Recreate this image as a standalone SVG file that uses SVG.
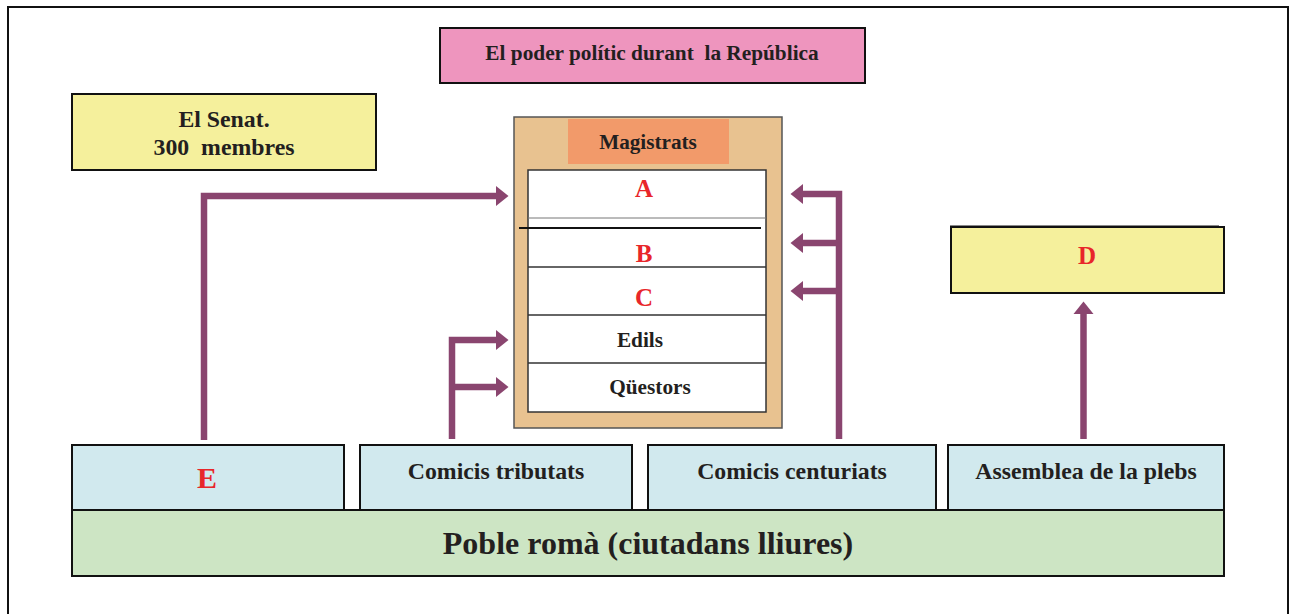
<svg xmlns="http://www.w3.org/2000/svg" width="1295" height="614" viewBox="0 0 1295 614">
<style>
text{font-family:"Liberation Serif","Times New Roman",serif;font-weight:bold;text-anchor:middle;fill:#231F20;white-space:pre}
.red{fill:#E8262A}
.box{stroke:#111;stroke-width:2}
.conn{fill:none;stroke:#8A456F;stroke-width:6.5;stroke-linejoin:miter;stroke-linecap:butt}
.sep{stroke:#333;stroke-width:1.3}
</style>
<defs>
<marker id="ah" markerUnits="userSpaceOnUse" markerWidth="13" markerHeight="22" refX="0" refY="10" orient="auto" viewBox="0 0 13 20">
<path d="M0,0 L12.5,10 L0,20 z" fill="#8A456F"/>
</marker>
</defs>
<rect x="0" y="0" width="1295" height="614" fill="#fff"/>
<rect x="8" y="7" width="1280" height="620" fill="none" stroke="#111" stroke-width="2"/>

<g id="title">
<rect class="box" x="440" y="28" width="425" height="55" fill="#EE95BE"/>
<text x="652" y="60" font-size="21.3" xml:space="preserve">El poder polític durant  la República</text>
</g>

<g id="senat">
<rect class="box" x="72" y="94" width="304" height="76" fill="#F5F09C"/>
<text x="224" y="127" font-size="23.8">El Senat.</text>
<text x="224" y="155" font-size="23.8" xml:space="preserve">300  membres</text>
</g>

<g id="magistrats">
<rect x="514" y="117" width="268" height="311" fill="#E8C290" stroke="#555" stroke-width="1.5"/>
<rect x="568" y="119" width="161" height="45" fill="#F29A6A"/>
<text x="648" y="149" font-size="21.2">Magistrats</text>
<rect x="528" y="170" width="238" height="242" fill="#fff" stroke="#333" stroke-width="1.5"/>
<line x1="528" y1="218" x2="766" y2="218" stroke="#777" stroke-width="1"/>
<line x1="519" y1="228" x2="761" y2="228" stroke="#111" stroke-width="2"/>
<line class="sep" x1="528" y1="267" x2="766" y2="267"/>
<line class="sep" x1="528" y1="315" x2="766" y2="315"/>
<line class="sep" x1="528" y1="363" x2="766" y2="363"/>
<text class="red" x="644" y="197" font-size="25">A</text>
<text class="red" x="644" y="262" font-size="25">B</text>
<text class="red" x="644" y="306" font-size="25">C</text>
<text x="640" y="347" font-size="21.3">Edils</text>
<text x="650" y="394" font-size="21.3">Qüestors</text>
</g>

<g id="d">
<line x1="950" y1="225.5" x2="1219" y2="225.5" stroke="#888" stroke-width="1"/>
<rect class="box" x="951" y="227" width="273" height="66" fill="#F5F09C"/>
<text class="red" x="1087" y="264" font-size="25">D</text>
</g>

<g id="e">
<rect class="box" x="72" y="445" width="272" height="65" fill="#D1E9EE"/>
<text class="red" x="207" y="488" font-size="30">E</text>
</g>
<g id="tributats">
<rect class="box" x="360" y="445" width="272" height="65" fill="#D1E9EE"/>
<text x="496" y="479" font-size="23.8">Comicis tributats</text>
</g>
<g id="centuriats">
<rect class="box" x="648" y="445" width="288" height="65" fill="#D1E9EE"/>
<text x="792" y="479" font-size="23.8">Comicis centuriats</text>
</g>
<g id="plebs">
<rect class="box" x="948" y="445" width="276" height="65" fill="#D1E9EE"/>
<text x="1086" y="479" font-size="23.8">Assemblea de la plebs</text>
</g>
<g id="poble">
<rect class="box" x="72" y="510" width="1152" height="66" fill="#CDE5C4"/>
<text x="648" y="554" font-size="32">Poble romà (ciutadans lliures)</text>
</g>

<g id="connectors">
<path class="conn" d="M204,440 V196 H496" marker-end="url(#ah)"/>
<path class="conn" d="M452,439 V340 H496" marker-end="url(#ah)"/>
<path class="conn" d="M452,387 H496" marker-end="url(#ah)"/>
<path class="conn" d="M839,439 V194 H803" marker-end="url(#ah)"/>
<path class="conn" d="M839,243 H803" marker-end="url(#ah)"/>
<path class="conn" d="M839,291 H803" marker-end="url(#ah)"/>
<path class="conn" d="M1083.5,439 V314" marker-end="url(#ah)"/>
</g>
</svg>
